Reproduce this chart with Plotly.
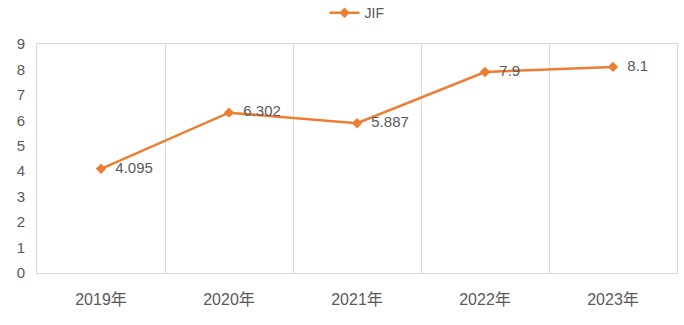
import plotly.graph_objects as go

categories = ["2019年", "2020年", "2021年", "2022年", "2023年"]
jif_values = [4.095, 6.302, 5.887, 7.9, 8.1]
value_labels = ["4.095", "6.302", "5.887", "7.9", "8.1"]
y_ticks = [0, 1, 2, 3, 4, 5, 6, 7, 8, 9]

ORANGE = "#ED7D31"
GREY = "#595959"
LINE = "#D9D9D9"
FONT = "Liberation Sans, Noto Sans CJK SC, sans-serif"

fig = go.Figure()
fig.add_trace(go.Scatter(
    x=categories, y=jif_values, name="JIF",
    mode="lines+markers+text",
    line=dict(color=ORANGE, width=2.5),
    marker=dict(symbol="diamond", size=8, color=ORANGE),
    text=["  " + t for t in value_labels], textposition="middle right",
    textfont=dict(color=GREY, size=15, family=FONT),
))

fig.update_layout(
    width=684, height=325,
    margin=dict(l=37, r=7, t=44, b=52, autoexpand=False),
    paper_bgcolor="white", plot_bgcolor="white",
    font=dict(family=FONT, color=GREY, size=15),
    showlegend=True,
    legend=dict(orientation="h", x=0.5, xanchor="center", y=1.135, yanchor="middle",
                font=dict(size=14, color=GREY), itemwidth=30),
    xaxis=dict(type="category", tickson="boundaries", showgrid=True, gridcolor=LINE,
               gridwidth=1, showline=True, linecolor=LINE, linewidth=1, mirror=True,
               ticks="", tickfont=dict(size=16, color=GREY), ticklabelstandoff=12,
               range=[-0.5, 4.5]),
    yaxis=dict(range=[0, 9], tickvals=y_ticks, showgrid=False, zeroline=False,
               showline=True, linecolor=LINE, linewidth=1, mirror=True,
               ticks="", tickfont=dict(size=15, color=GREY), ticklabelstandoff=8),
)

fig.write_html("out.html", config={"displayModeBar": False},
               post_script="document.body.style.margin='0';")
